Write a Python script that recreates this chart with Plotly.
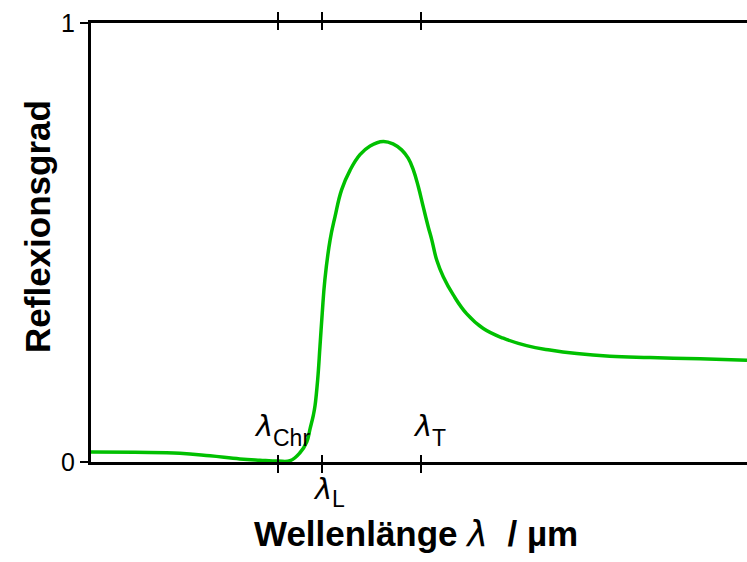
import plotly.graph_objects as go

# ---- data (arbitrary wavelength units) ----
wavelength = [0.00, 1.34, 2.71, 3.63, 4.54, 5.15, 5.70, 6.07, 6.37, 6.58, 6.68, 6.78,
              6.83, 6.91, 6.98, 7.05, 7.13, 7.29, 7.44, 7.64, 7.90, 8.20, 8.51, 8.91,
              9.22, 9.47, 9.67, 9.83, 9.98, 10.13, 10.28, 10.39, 10.54, 10.74, 11.05,
              11.45, 11.96, 12.57, 13.28, 13.99, 14.81, 15.82, 17.04, 18.57, 20.00]
reflectance = [0.023, 0.022, 0.020, 0.014, 0.007, 0.004, 0.002, 0.003, 0.021, 0.046,
               0.076, 0.107, 0.128, 0.187, 0.262, 0.339, 0.415, 0.506, 0.559, 0.620,
               0.665, 0.700, 0.720, 0.730, 0.724, 0.711, 0.692, 0.665, 0.627, 0.581,
               0.536, 0.506, 0.460, 0.422, 0.380, 0.338, 0.304, 0.282, 0.265, 0.255,
               0.247, 0.241, 0.238, 0.235, 0.232]

tick_positions = [5.70, 7.04, 10.06]
tick_subscripts = ["Chr", "L", "T"]
y_tick_values = [0, 1]
y_tick_labels = ["0", "1"]

x_range = [0, 20]
y_range = [0, 1]

# ---- style ----
FONT = "Liberation Sans, Arial, sans-serif"
GREEK = "DejaVu Sans, sans-serif"
GREEN = "#00c000"
label_above = [True, False, True]
label_junction_shift = [-5, 10, 11]

fig = go.Figure()
fig.add_trace(go.Scatter(x=wavelength, y=reflectance, mode="lines",
                         line=dict(color=GREEN, width=3.5, shape="spline", smoothing=1.2),
                         hoverinfo="skip", showlegend=False))
# invisible helper trace for the overlaid (inside-tick) axis
fig.add_trace(go.Scatter(x=x_range, y=y_range, xaxis="x2", mode="lines",
                         line=dict(width=0), hoverinfo="skip", showlegend=False, opacity=0))

annotations = []
for pos, sub, above, js in zip(tick_positions, tick_subscripts, label_above, label_junction_shift):
    if above:
        ly, sy = 36, 24
    else:
        ly, sy = -27, -37
    annotations.append(dict(x=pos, y=0, xref="x", yref="y", text="<i>λ</i>", showarrow=False,
                            xanchor="right", yanchor="middle", xshift=js + 2, yshift=ly,
                            font=dict(family=GREEK, size=29, color="black")))
    annotations.append(dict(x=pos, y=0, xref="x", yref="y", text=sub, showarrow=False,
                            xanchor="left", yanchor="middle", xshift=js - 2, yshift=sy,
                            font=dict(family=FONT, size=23, color="black")))

annotations.append(dict(x=0.4954, y=-0.164, xref="paper", yref="paper",
                        text="<b>Wellenlänge </b><span style='font-family:DejaVu Sans'><i>λ</i></span><b>  / µm</b>",
                        showarrow=False, xanchor="center", yanchor="middle",
                        font=dict(family=FONT, size=35, color="black")))
annotations.append(dict(x=-0.0808, y=0.5376, xref="paper", yref="paper",
                        text="<b>Reflexionsgrad</b>", showarrow=False, textangle=-90,
                        xanchor="center", yanchor="middle",
                        font=dict(family=FONT, size=35, color="black")))

fig.update_layout(
    width=747, height=562,
    margin=dict(l=91, r=0, t=23, b=100),
    paper_bgcolor="white", plot_bgcolor="white",
    font=dict(family=FONT, size=22, color="black"),
    xaxis=dict(range=x_range, showgrid=False, zeroline=False,
               showline=True, linecolor="black", linewidth=3, mirror="ticks",
               ticks="outside", ticklen=8, tickwidth=2.5, tickcolor="black",
               tickvals=tick_positions, showticklabels=False),
    xaxis2=dict(overlaying="x", matches="x", range=x_range, showgrid=False, zeroline=False,
                showline=False, mirror="ticks",
                ticks="inside", ticklen=7, tickwidth=2.5, tickcolor="black",
                tickvals=tick_positions, showticklabels=False),
    yaxis=dict(range=y_range, showgrid=False, zeroline=False,
               showline=True, linecolor="black", linewidth=3,
               ticks="outside", ticklen=8, tickwidth=2.5, tickcolor="black",
               tickvals=y_tick_values, ticktext=y_tick_labels,
               tickfont=dict(family=FONT, size=25, color="black")),
    annotations=annotations,
    showlegend=False,
)

fig.write_html("out.html",
               config={"displayModeBar": False, "staticPlot": True},
               post_script="document.body.style.margin='0';document.body.style.overflow='hidden';")
